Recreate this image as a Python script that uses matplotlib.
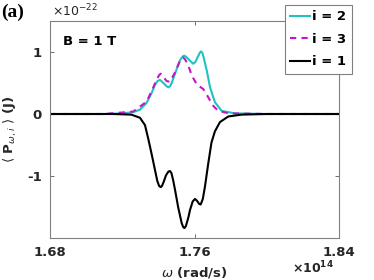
import matplotlib
matplotlib.use("Agg")
import matplotlib.pyplot as plt

# omega in units of 1e14 rad/s, power in units of 1e-22 J
w_i1 = [1.680, 1.715, 1.725, 1.7298, 1.7326, 1.7344, 1.7363, 1.7381, 1.7394, 1.7404,
        1.7413, 1.7420, 1.7430, 1.7442, 1.7455, 1.7464, 1.7472, 1.7482, 1.7492, 1.7510,
        1.7529, 1.7537, 1.7544, 1.7552, 1.7566, 1.7575, 1.7590, 1.7603, 1.7614, 1.7626,
        1.7634, 1.7646, 1.7658, 1.7676, 1.7694, 1.7713, 1.7741, 1.7787, 1.7861, 1.800,
        1.840]
p_i1 = [0.0, 0.0, -0.01, -0.06, -0.18, -0.40, -0.65, -0.90, -1.08, -1.16,
        -1.18, -1.16, -1.09, -0.99, -0.93, -0.92, -0.95, -1.07, -1.22, -1.51,
        -1.76, -1.82, -1.84, -1.81, -1.67, -1.55, -1.41, -1.37, -1.40, -1.45,
        -1.46, -1.37, -1.17, -0.80, -0.46, -0.28, -0.13, -0.04, -0.01, 0.0,
        0.0]

w_i2 = [1.680, 1.710, 1.720, 1.7261, 1.7298, 1.7335, 1.7363, 1.7381, 1.7395, 1.7409,
        1.7428, 1.7445, 1.7455, 1.7465, 1.7475, 1.7492, 1.7520, 1.7535, 1.7544, 1.7555,
        1.7568, 1.7593, 1.7605, 1.7618, 1.7630, 1.7636, 1.7643, 1.7650, 1.7668, 1.7686,
        1.7713, 1.7751, 1.7824, 1.800, 1.840]
p_i2 = [0.0, 0.0, 0.01, 0.03, 0.07, 0.18, 0.34, 0.47, 0.53, 0.55,
        0.50, 0.45, 0.43, 0.45, 0.51, 0.65, 0.87, 0.93, 0.94, 0.92,
        0.88, 0.81, 0.84, 0.92, 0.99, 1.01, 0.99, 0.92, 0.70, 0.43,
        0.19, 0.05, 0.01, 0.0, 0.0]

w_i3 = [1.680, 1.710, 1.7261, 1.7335, 1.7372, 1.7391, 1.7405, 1.7413, 1.7425, 1.7446,
        1.7464, 1.7492, 1.7520, 1.7531, 1.7538, 1.7548, 1.7566, 1.7585, 1.7612, 1.7649,
        1.7676, 1.7704, 1.7732, 1.7790, 1.800, 1.840]
p_i3 = [0.0, 0.0, 0.04, 0.20, 0.43, 0.56, 0.63, 0.65, 0.61, 0.53,
        0.52, 0.67, 0.86, 0.90, 0.91, 0.88, 0.78, 0.62, 0.48, 0.40,
        0.27, 0.13, 0.05, 0.01, 0.0, 0.0]

x_ticks = [1.68, 1.76, 1.84]
x_ticklabels = ["1.68", "1.76", "1.84"]
y_ticks = [-1, 0, 1]
y_ticklabels = ["-1", "0", "1"]

fig = plt.figure(figsize=(3.74, 2.80), dpi=100)
ax = fig.add_axes([50/374, 42/280, 289/374, 217/280])

tc = "#262626"
ax.plot(w_i2, p_i2, color="#1dc3c3", lw=1.5, label="i = 2")
ax.plot(w_i3, p_i3, color="#c814c8", lw=1.5, ls=(0, (3, 2.5)), label="i = 3")
ax.plot(w_i1, p_i1, color="black", lw=1.5, label="i = 1")

ax.set_xlim(1.68, 1.84)
ax.set_ylim(-2.0, 1.5)
ax.set_xticks(x_ticks)
ax.set_xticklabels(x_ticklabels, fontweight="bold", fontsize=9.5, color=tc)
ax.set_yticks(y_ticks)
ax.set_yticklabels(y_ticklabels, fontweight="bold", fontsize=9.5, color=tc)
ax.tick_params(direction="in", length=3, width=0.6, color="#555555",
               top=True, right=True, pad=6)
for s in ax.spines.values():
    s.set_color("#808080")
    s.set_linewidth(0.8)

ax.set_xlabel(r"$\omega$ (rad/s)", fontweight="bold", fontsize=9.5, color=tc, labelpad=4)
ax.set_ylabel(r"$\langle$ $\mathbf{P}_{\omega,i}$ $\rangle$ (J)", fontweight="bold",
              fontsize=9.5, color=tc, labelpad=6)

ax.text(0.045, 0.905, "B = 1 T", transform=ax.transAxes, fontweight="bold",
        fontsize=9.5, color="black", va="center", ha="left")

fig.text(52/374, 1 - 11/280, r"$\mathregular{\times10^{-22}}$", fontsize=9,
         color=tc, va="center", ha="left")
fig.text(292/374, 1 - 268/280, r"$\mathregular{\times}$$\mathbf{10^{14}}$", fontsize=9,
         color=tc, va="center", ha="left", fontweight="bold")
fig.text(1/374, 1 - 12/280, "(a)", fontsize=14, fontweight="bold",
         family="Liberation Serif", va="center", ha="left")

leg = ax.legend(loc="upper right", bbox_to_anchor=(351.7/374, 1 - 5/280),
                bbox_transform=fig.transFigure, borderaxespad=0,
                prop={"weight": "bold", "size": 9.5}, handlelength=1.5,
                handletextpad=0.2, labelspacing=0.72, borderpad=0.4,
                fancybox=False, framealpha=1)
leg.get_frame().set_edgecolor("#808080")
leg.get_frame().set_linewidth(0.8)

fig.savefig("out.png", dpi=100)
